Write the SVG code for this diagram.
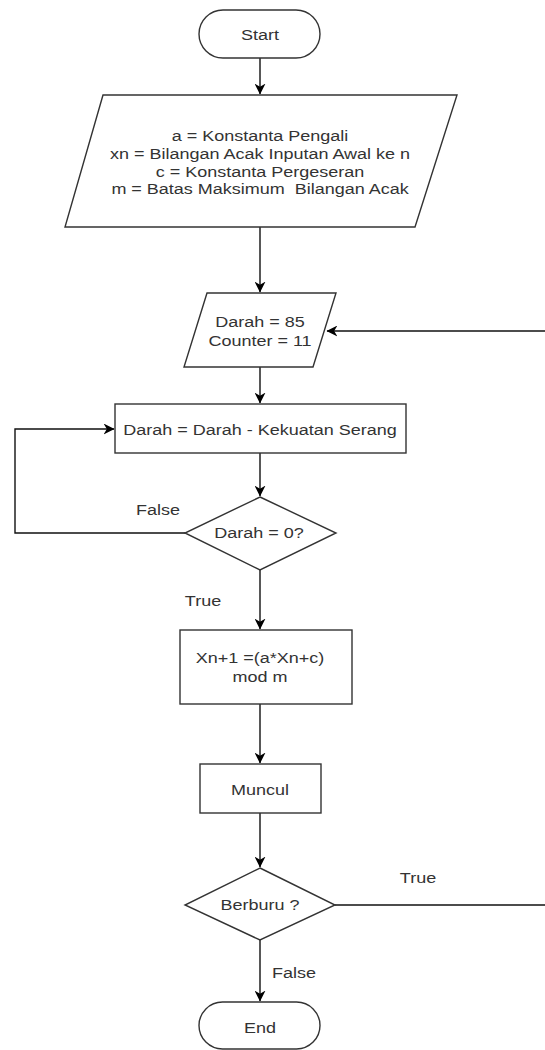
<svg xmlns="http://www.w3.org/2000/svg" width="545" height="1050" viewBox="0 0 545 1050">
<defs>
<marker id="arr" viewBox="0 0 10 10" refX="9.5" refY="5" markerWidth="11" markerHeight="11" markerUnits="userSpaceOnUse" orient="auto">
<path d="M0,0 L10,5 L0,10 L3,5 Z" fill="#000"/>
</marker>
</defs>
<style>
.s{fill:#fff;stroke:#333;stroke-width:1.4}
.c{fill:none;stroke:#111;stroke-width:1.4}
.t{font-family:"Liberation Sans",Arial,sans-serif;font-size:15px;fill:#333;text-anchor:middle}
</style>
<rect width="545" height="1050" fill="#fff"/>
<g id="connectors">
<path class="c" d="M260,58 V94" marker-end="url(#arr)"/>
<path class="c" d="M260,227 V292" marker-end="url(#arr)"/>
<path class="c" d="M545,331 H327" marker-end="url(#arr)"/>
<path class="c" d="M260,367 V403" marker-end="url(#arr)"/>
<path class="c" d="M260,453 V496" marker-end="url(#arr)"/>
<path class="c" d="M185,533 H15 V429 H114" marker-end="url(#arr)"/>
<path class="c" d="M260,570 V629" marker-end="url(#arr)"/>
<path class="c" d="M260,704 V763" marker-end="url(#arr)"/>
<path class="c" d="M260,813 V867" marker-end="url(#arr)"/>
<path class="c" d="M335,905 H545"/>
<path class="c" d="M260,940 V1001" marker-end="url(#arr)"/>
<text class="t" transform="matrix(1.2 0 0 1 158 515)">False</text>
<text class="t" transform="matrix(1.2 0 0 1 203 606)">True</text>
<text class="t" transform="matrix(1.2 0 0 1 418 883)">True</text>
<text class="t" transform="matrix(1.2 0 0 1 294 978)">False</text>
</g>
<g id="start">
<rect class="s" x="199" y="10" width="121" height="48" rx="24" ry="24"/>
<text class="t" transform="matrix(1.2 0 0 1 260 40)">Start</text>
</g>
<g id="input1">
<polygon class="s" points="103,95 457,95 415,227 65,227"/>
<text class="t" transform="matrix(1.2 0 0 1 260 141)">a = Konstanta Pengali</text>
<text class="t" transform="matrix(1.2 0 0 1 260 159)">xn = Bilangan Acak Inputan Awal ke n</text>
<text class="t" transform="matrix(1.2 0 0 1 260 177)">c = Konstanta Pergeseran</text>
<text class="t" transform="matrix(1.2 0 0 1 260 194)" xml:space="preserve">m = Batas Maksimum  Bilangan Acak</text>
</g>
<g id="input2">
<polygon class="s" points="207,293 336,293 313,367 184,367"/>
<text class="t" transform="matrix(1.2 0 0 1 260 327)">Darah = 85</text>
<text class="t" transform="matrix(1.2 0 0 1 260 346)">Counter = 11</text>
</g>
<g id="process1">
<rect class="s" x="115" y="404" width="291" height="49"/>
<text class="t" transform="matrix(1.2 0 0 1 260 435)">Darah = Darah - Kekuatan Serang</text>
</g>
<g id="decision1">
<polygon class="s" points="260,497 336,533 260,570 185,533"/>
<text class="t" transform="matrix(1.2 0 0 1 259 538)">Darah = 0?</text>
</g>
<g id="process2">
<rect class="s" x="180" y="630" width="172" height="74"/>
<text class="t" transform="matrix(1.2 0 0 1 260 663)">Xn+1 =(a*Xn+c)</text>
<text class="t" transform="matrix(1.2 0 0 1 260 682)">mod m</text>
</g>
<g id="muncul">
<rect class="s" x="200" y="764" width="121" height="49"/>
<text class="t" transform="matrix(1.2 0 0 1 260 795)">Muncul</text>
</g>
<g id="decision2">
<polygon class="s" points="260,868 335,905 260,940 185,905"/>
<text class="t" transform="matrix(1.2 0 0 1 260 910)">Berburu ?</text>
</g>
<g id="end">
<rect class="s" x="199" y="1002" width="121" height="47" rx="23.5" ry="23.5"/>
<text class="t" transform="matrix(1.2 0 0 1 260 1033)">End</text>
</g>
</svg>
